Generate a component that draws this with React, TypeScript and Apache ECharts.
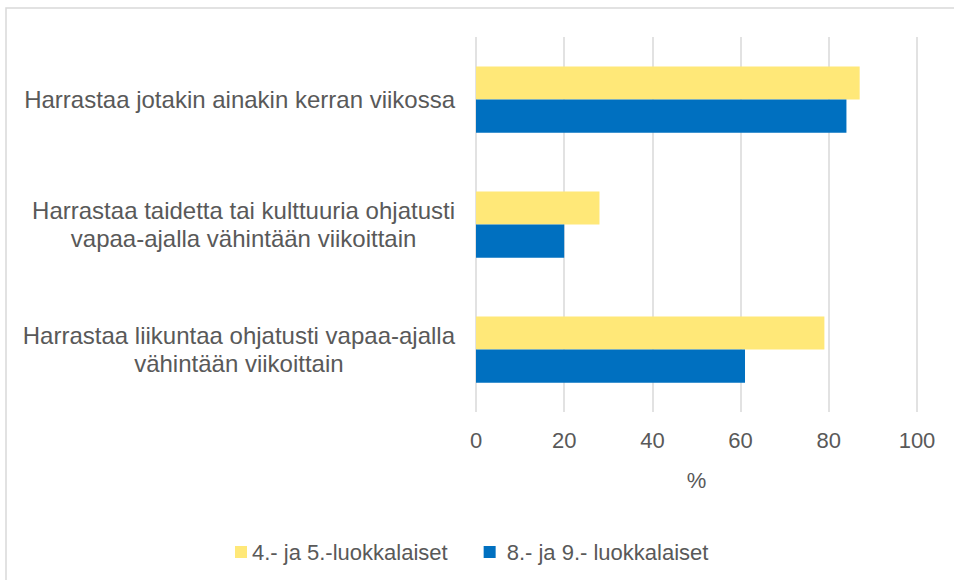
import React, { useEffect, useRef } from "react";
import * as echarts from "echarts";

const categories = [
  "Harrastaa jotakin ainakin kerran viikossa",
  "Harrastaa taidetta tai kulttuuria ohjatusti\nvapaa-ajalla vähintään viikoittain",
  "Harrastaa liikuntaa ohjatusti vapaa-ajalla\nvähintään viikoittain",
];
const seriesNames = ["4.- ja 5.-luokkalaiset", "8.- ja 9.- luokkalaiset"];
const grade45 = [87, 28, 79];
const grade89 = [84, 20, 61];
const xTicks = [0, 20, 40, 60, 80, 100];

const FONT = "Liberation Sans, Arial, sans-serif";
const TEXT = "#595959";

export default function App() {
  const ref = useRef<HTMLDivElement>(null);
  useEffect(() => {
    if (!ref.current) return;
    const chart = echarts.init(ref.current, null, { renderer: "svg" });
    chart.setOption({
      animation: false,
      backgroundColor: "#ffffff",
      textStyle: { fontFamily: FONT },
      graphic: [
        {
          type: "rect",
          shape: { x: 6, y: 8, width: 980, height: 600 },
          style: { fill: "none", stroke: "#d9d9d9", lineWidth: 1.5 },
          silent: true,
        },
      ],
      grid: { left: 476, right: 37, top: 37, bottom: 168, containLabel: false },
      legend: {
        left: 230,
        top: 536,
        itemWidth: 12,
        itemHeight: 12,
        itemGap: 36,
        icon: "rect",
        textStyle: { fontFamily: FONT, fontSize: 22, color: TEXT },
        data: [
          { name: seriesNames[0] },
          { name: seriesNames[1], textStyle: { padding: [0, 0, 0, 6] } },
        ],
      },
      xAxis: {
        type: "value",
        min: xTicks[0],
        max: xTicks[xTicks.length - 1],
        interval: 20,
        name: "%",
        nameLocation: "middle",
        nameGap: 57,
        nameTextStyle: { fontFamily: FONT, fontSize: 22, color: TEXT },
        axisLine: { show: false },
        axisTick: { show: false },
        axisLabel: { fontFamily: FONT, fontSize: 22, color: TEXT, margin: 17 },
        splitLine: { show: true, lineStyle: { color: "#d9d9d9", width: 1.5 } },
      },
      yAxis: {
        type: "category",
        inverse: true,
        data: categories,
        axisLine: { show: false },
        axisTick: { show: false },
        axisLabel: {
          margin: 21,
          fontFamily: FONT,
          fontSize: 24,
          color: TEXT,
          formatter: (v: string) =>
            v.split("\n").map((l) => `{c|${l}}`).join("\n"),
          rich: {
            c: { align: "center", fontFamily: FONT, fontSize: 24, color: TEXT, lineHeight: 28 },
          },
        },
      },
      series: [
        {
          name: seriesNames[0],
          type: "bar",
          data: grade45,
          itemStyle: { color: "#ffe878" },
          barGap: "0%",
          barCategoryGap: "47%",
        },
        {
          name: seriesNames[1],
          type: "bar",
          data: grade89,
          itemStyle: { color: "#0070c0" },
          barGap: "0%",
          barCategoryGap: "47%",
        },
      ],
    });
    return () => chart.dispose();
  }, []);
  return (
    <div
      ref={ref}
      style={{ position: "fixed", left: 0, top: 0, width: 954, height: 580 }}
    />
  );
}
